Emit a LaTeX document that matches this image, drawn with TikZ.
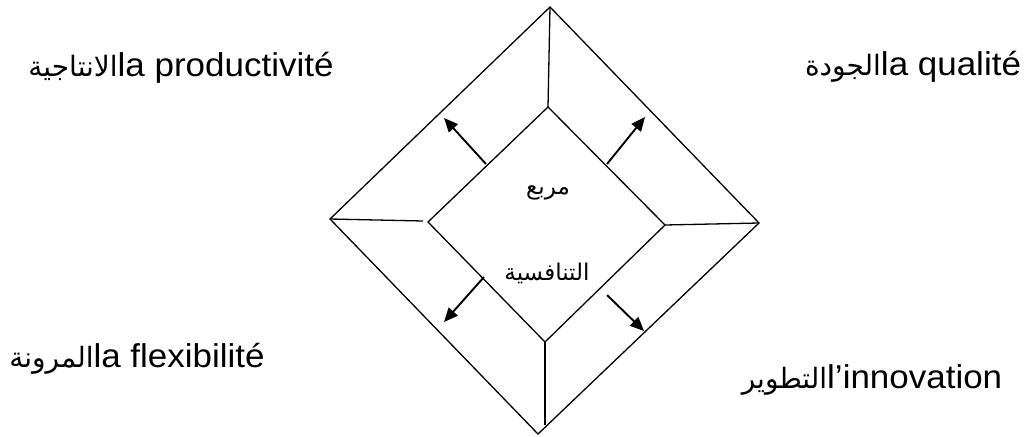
\documentclass[tikz,border=0pt]{standalone}
\usepackage{fontspec}
\setmainfont{Liberation Sans}[FakeStretch=1.06]
\newfontfamily\arabicfont[Script=Arabic]{DejaVu Sans}
\TeXXeTstate=1
\usetikzlibrary{arrows.meta}
\newcommand\arlab{\arabicfont\fontsize{28}{32}\selectfont}
\tikzset{
  frame/.style={line width=1.3pt, line join=miter},
  push/.style={line width=1.9pt, -{Triangle[length=14pt,width=12pt]}},
  label/.style={anchor=base, inner sep=0pt, font=\fontsize{33}{38}\selectfont},
  center/.style={inner sep=0pt, font=\arabicfont\fontsize{23}{28}\selectfont}
}
\begin{document}
\begin{tikzpicture}[x=1pt,y=-1pt]
\useasboundingbox (0,0) rectangle (1024,436);
% outer diamond
\coordinate (oT) at (550,7);
\coordinate (oL) at (330,219);
\coordinate (oR) at (759,223);
\coordinate (oB) at (538,434);
% inner diamond
\coordinate (iT) at (548,107);
\coordinate (iL) at (428,222);
\coordinate (iR) at (665,225);
\coordinate (iB) at (545,342);
% spoke ends
\coordinate (sL) at (423,221);
\coordinate (sB) at (545,425);
\draw[frame] (oT) -- (oR) -- (oB) -- (oL) -- cycle;
\draw[frame] (iT) -- (iR) -- (iB) -- (iL) -- cycle;
\draw[frame] (oT) -- (iT);
\draw[frame] (oL) -- (sL);
\draw[frame] (iR) -- (oR);
\draw[frame] (iB) -- (sB);
% arrows
\coordinate (a1s) at (486,164); \coordinate (a1e) at (444,118);
\coordinate (a2s) at (607,164); \coordinate (a2e) at (645,117);
\coordinate (a3s) at (484,277); \coordinate (a3e) at (444,322);
\coordinate (a4s) at (607,295); \coordinate (a4e) at (644,331);
\draw[push] (a1s) -- (a1e);
\draw[push] (a2s) -- (a2e);
\draw[push] (a3s) -- (a3e);
\draw[push] (a4s) -- (a4e);
% center texts
\node[center] (c1) at (548,193) {\beginR مربع\endR};
\node[center] (c2) at (547,273) {\beginR التنافسية\endR};
% labels
\node[label] (prod) at (181,77) {{\arlab\beginR الانتاجية\endR}la productivité};
\node[label] (qual) at (913,75) {{\arlab\beginR الجودة\endR}la qualité};
\node[label] (flex) at (137,367) {{\arlab\beginR المرونة\endR}la flexibilité};
\node[label] (inno) at (872,388) {{\arlab\beginR التطوير\endR}l’innovation};
\end{tikzpicture}
\end{document}
